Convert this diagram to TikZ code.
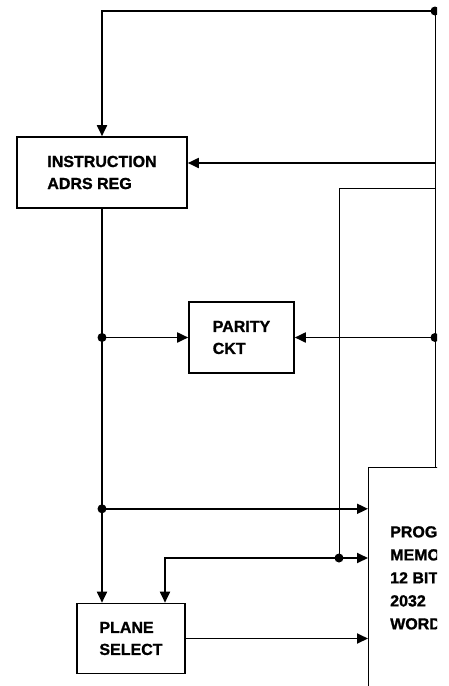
\documentclass[tikz,border=0pt]{standalone}
\usepackage{fontspec}
\setmainfont{Liberation Sans}[FakeBold=1.2]
\usetikzlibrary{arrows.meta,calc}
\begin{document}
\begin{tikzpicture}[x=1pt,y=-1pt,
  wire/.style={line width=1.8pt},
  thin wire/.style={line width=1pt},
  arr/.style={wire,-{Triangle[length=11pt,width=10pt]}},
  boxn/.style={draw,line width=1.6pt,rectangle,inner sep=0pt,align=left,
    font=\fontsize{16}{22}\selectfont\bfseries},
  dot/.style={circle,fill=black,inner sep=0pt,minimum size=9pt}]
\useasboundingbox (0,0) rectangle (449,686);
\begin{scope}
\clip (0,0) rectangle (437,686);
% boxes
\node[boxn,minimum width=170pt,minimum height=71pt] (ins) at (102,172.5) {INSTRUCTION\\ADRS REG};
\node[boxn,minimum width=105pt,minimum height=71pt] (par) at (241.5,337.5) {PARITY\\CKT};
\node[boxn,minimum width=108pt,minimum height=70pt] (pls) at (131,638.5) {PLANE\\SELECT};
\node[draw,line width=1.4pt,rectangle,minimum width=200pt,minimum height=300pt,anchor=north west,inner sep=0pt] (mem) at (368,467) {};
\node[anchor=north west,align=left,inner sep=0pt,font=\fontsize{16}{23}\selectfont\bfseries] (memtext) at (390,526) {PROGRAM\\MEMORY\\12 BITS\\2032\\WORDS};
% coordinates
\coordinate (top) at (435,11);
\coordinate (r1) at (435,163);
\coordinate (r2) at (435,188);
\coordinate (c2) at (339,188);
\coordinate (d1) at (ins.south |- par.west);
\coordinate (d2) at ($(ins.south)+(0,300)$);
\coordinate (d3) at (435,337.5);
\coordinate (d4) at (339,558);
\coordinate (k) at (165,558);
\coordinate (tl) at (ins.north |- top);
% right feedback line
\draw[thin wire] (top) -- (top |- mem.north);
\draw[arr] (top) -- (tl) -- (ins.north);
\draw[arr] (r1) -- (r1 -| ins.east);
\draw[thin wire] (r2) -- (c2) -- (d4);
\draw[arr] (d4) -- (d4 -| mem.west);
% main vertical
\draw[arr] (ins.south) -- (ins.south |- pls.north);
\draw[arr] (d1) -- (par.west);
\draw[arr] (d3) -- (par.east);
\draw[arr] (d2) -- (d2 -| mem.west);
\draw[arr] (d4) -- (k) -- (k |- pls.north);
\draw[arr] (pls.east) -- (pls.east -| mem.west);
% dots
\node[dot] (n0) at (top) {};
\node[dot] (n1) at (d1) {};
\node[dot] (n2) at (d2) {};
\node[dot] (n3) at (d3) {};
\node[dot] (n4) at (d4) {};
\end{scope}
\end{tikzpicture}
\end{document}
